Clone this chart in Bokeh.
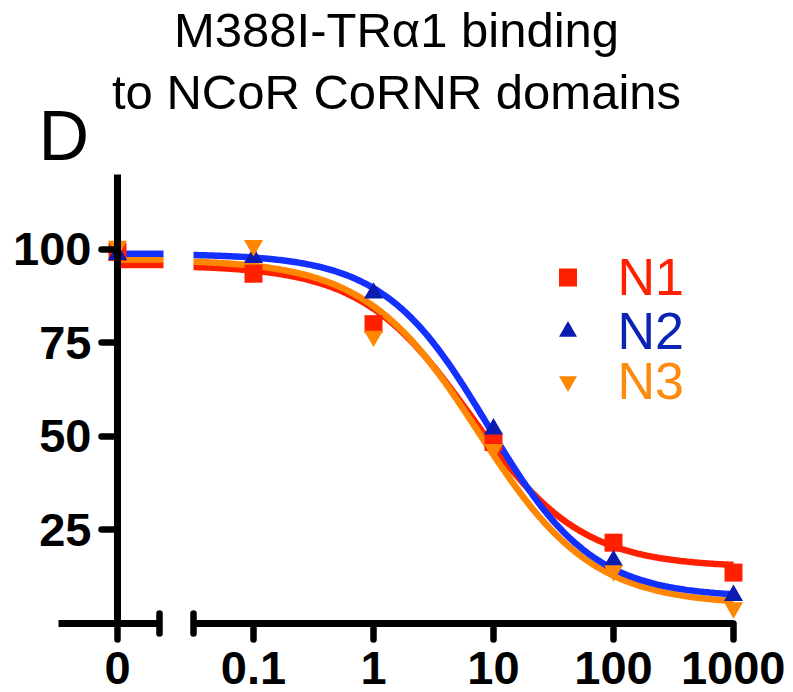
import numpy as np
from bokeh.plotting import figure
from bokeh.models import (Range1d, LogScale, LogAxis, FixedTicker, CustomJSTickFormatter,
                          Label, Legend, LegendItem)
from bokeh.embed import file_html
from bokeh.resources import INLINE

# ---------------- data ----------------
conc = [0.1, 1, 10, 100, 1000]          # concentration (log segment)
zero_conc = [0]                          # the "0" segment
n1_zero = [99.3]
n1 = [93.5, 80.0, 48.5, 21.6, 13.6]
n2_zero = [98.6]
n2 = [97.8, 88.3, 52.0, 16.8, 7.5]
n3_zero = [100.8]
n3 = [101.0, 76.8, 46.5, 14.1, 4.2]

# fitted sigmoid parameters (top, bottom, IC50, hill) estimated from the curves
fit_n1 = (95.8, 15.0, 6.5, 0.95)
fit_n2 = (98.8, 7.0, 9.0, 1.0)
fit_n3 = (97.3, 5.0, 7.5, 0.92)

x_ticks_log = [0.1, 1, 10, 100, 1000]
x_ticks_zero = [0]
y_ticks = [25, 50, 75, 100]
series_names = ["N1", "N2", "N3"]

title_1 = "M388I-TR\u03b11 binding"
title_2 = "to NCoR CoRNR domains"
panel_letter = "D"

RED = "#ff2000"
BLUE_LINE = "#1430ff"
BLUE_MARK = "#0b1cb0"
BLUE_TEXT = "#0a24b4"
ORANGE = "#ff8600"
ORANGE_TEXT = "#ff8a10"


def fit(x, params):
    top, bottom, ic50, hill = params
    x = np.asarray(x, dtype=float)
    return bottom + (top - bottom) / (1.0 + (x / ic50) ** hill)


# ---------------- layout (pixels on the canvas) ----------------
W, H = 785, 684
X_ZERO_PX = 117          # canvas x of the y axis / value 0
UNIT_PX = 59.0           # px per unit of the zero segment
STUB_START = -1.0        # left end of the zero-segment axis
STUB_END = 0.712         # right cap of the zero-segment axis
ZERO_LINE_END = 0.78
LOG_01_PX = 253          # canvas x of 0.1
DEC_PX = 120.0           # px per decade
LOG_START = 10 ** -1.5   # left cap of log segment
Y_TOP_PX = 174           # canvas y (from top) of value 120
Y_ZERO_PX = 623          # canvas y (from top) of value 0
Y_MAX = 120

ppu = (Y_ZERO_PX - Y_TOP_PX) / Y_MAX
x_range = Range1d((0 - X_ZERO_PX) / UNIT_PX, (W - X_ZERO_PX) / UNIT_PX)
y_range = Range1d(-(H - Y_ZERO_PX) / ppu, Y_MAX + Y_TOP_PX / ppu)
log_range = Range1d(10 ** (-1 - LOG_01_PX / DEC_PX), 10 ** (-1 + (W - LOG_01_PX) / DEC_PX))

p = figure(width=W, height=H, x_range=x_range, y_range=y_range,
           output_backend="svg", toolbar_location=None, min_border=0)
p.extra_x_ranges = {"log": log_range}
p.extra_x_scales = {"log": LogScale()}
p.grid.visible = False
p.outline_line_color = None
p.background_fill_color = "white"
p.border_fill_color = "white"

AXIS_W = 7
TICK_W = 6.5
TICK_FONT = "47px"


def style_axis(ax, standoff):
    ax.axis_line_width = AXIS_W
    ax.axis_line_color = "black"
    ax.major_tick_line_color = "black"
    ax.major_tick_line_width = TICK_W
    ax.major_tick_line_cap = "round"
    ax.major_tick_in = 0
    ax.major_tick_out = 16
    ax.minor_tick_line_color = "black"
    ax.minor_tick_line_width = TICK_W
    ax.minor_tick_line_cap = "round"
    ax.minor_tick_in = 10
    ax.minor_tick_out = 10
    ax.major_label_text_font = "Liberation Sans"
    ax.major_label_text_font_style = "bold"
    ax.major_label_text_font_size = TICK_FONT
    ax.major_label_text_color = "black"
    ax.major_label_standoff = standoff


# y axis (fixed at x = 0)
ya = p.yaxis[0]
ya.fixed_location = 0
ya.bounds = (0, Y_MAX)
ya.ticker = FixedTicker(ticks=y_ticks)
style_axis(ya, 10)
ya.minor_tick_line_color = None

# x axis, zero segment
xa = p.xaxis[0]
xa.fixed_location = 0
xa.bounds = (STUB_START, STUB_END)
xa.ticker = FixedTicker(ticks=x_ticks_zero, minor_ticks=[STUB_END])
style_axis(xa, 12)

# x axis, log segment
la = LogAxis(x_range_name="log")
la.fixed_location = 0
la.bounds = (LOG_START, max(x_ticks_log))
la.ticker = FixedTicker(ticks=x_ticks_log, minor_ticks=[LOG_START])
la.formatter = CustomJSTickFormatter(code="return String(tick)")
style_axis(la, 12)
p.add_layout(la, "below")

# ---------------- curves ----------------
xs = np.logspace(np.log10(LOG_START), np.log10(max(x_ticks_log)), 300)
LW = 6.5
for params, color in [(fit_n1, RED), (fit_n3, ORANGE), (fit_n2, BLUE_LINE)]:
    y0 = float(fit(0.0, params))
    p.line([0, ZERO_LINE_END], [y0, y0], line_color=color, line_width=LW)
    p.line(xs, fit(xs, params), line_color=color, line_width=LW, x_range_name="log")

# ---------------- points ----------------
r1 = p.scatter(zero_conc, n1_zero, marker="square", size=18, fill_color=RED, line_color=None)
p.scatter(conc, n1, marker="square", size=18, fill_color=RED, line_color=None, x_range_name="log")
r2 = p.scatter(zero_conc, n2_zero, marker="triangle", size=19, fill_color=BLUE_MARK, line_color=None)
p.scatter(conc, n2, marker="triangle", size=19, fill_color=BLUE_MARK, line_color=None, x_range_name="log")
r3 = p.scatter(zero_conc, n3_zero, marker="inverted_triangle", size=19, fill_color=ORANGE, line_color=None)
p.scatter(conc, n3, marker="inverted_triangle", size=19, fill_color=ORANGE, line_color=None, x_range_name="log")

# ---------------- legends ----------------
for name, rend, tcolor, ybot in [(series_names[0], r1, RED, 376),
                                 (series_names[1], r2, BLUE_TEXT, 322),
                                 (series_names[2], r3, ORANGE_TEXT, 272)]:
    leg = Legend(items=[LegendItem(label=name, renderers=[rend])], location=(544.5, ybot),
                 border_line_color=None, background_fill_alpha=0, padding=0, margin=0,
                 spacing=0, glyph_width=45, glyph_height=62, label_standoff=28,
                 label_text_font="Liberation Sans", label_text_font_size="52px",
                 label_text_color=tcolor)
    p.add_layout(leg)

# ---------------- titles ----------------
for txt, ty in [(title_1, H - 29.5), (title_2, H - 91.0)]:
    p.add_layout(Label(x=396, y=ty, x_units="screen", y_units="screen", text=txt,
                       text_align="center", text_baseline="middle",
                       text_font="Liberation Sans", text_font_size="49px", text_color="black"))
p.add_layout(Label(x=38, y=H - 135, x_units="screen", y_units="screen", text=panel_letter,
                   text_align="left", text_baseline="middle",
                   text_font="Liberation Sans", text_font_size="70px", text_color="black"))

open("out.html", "w").write(file_html(p, INLINE))
